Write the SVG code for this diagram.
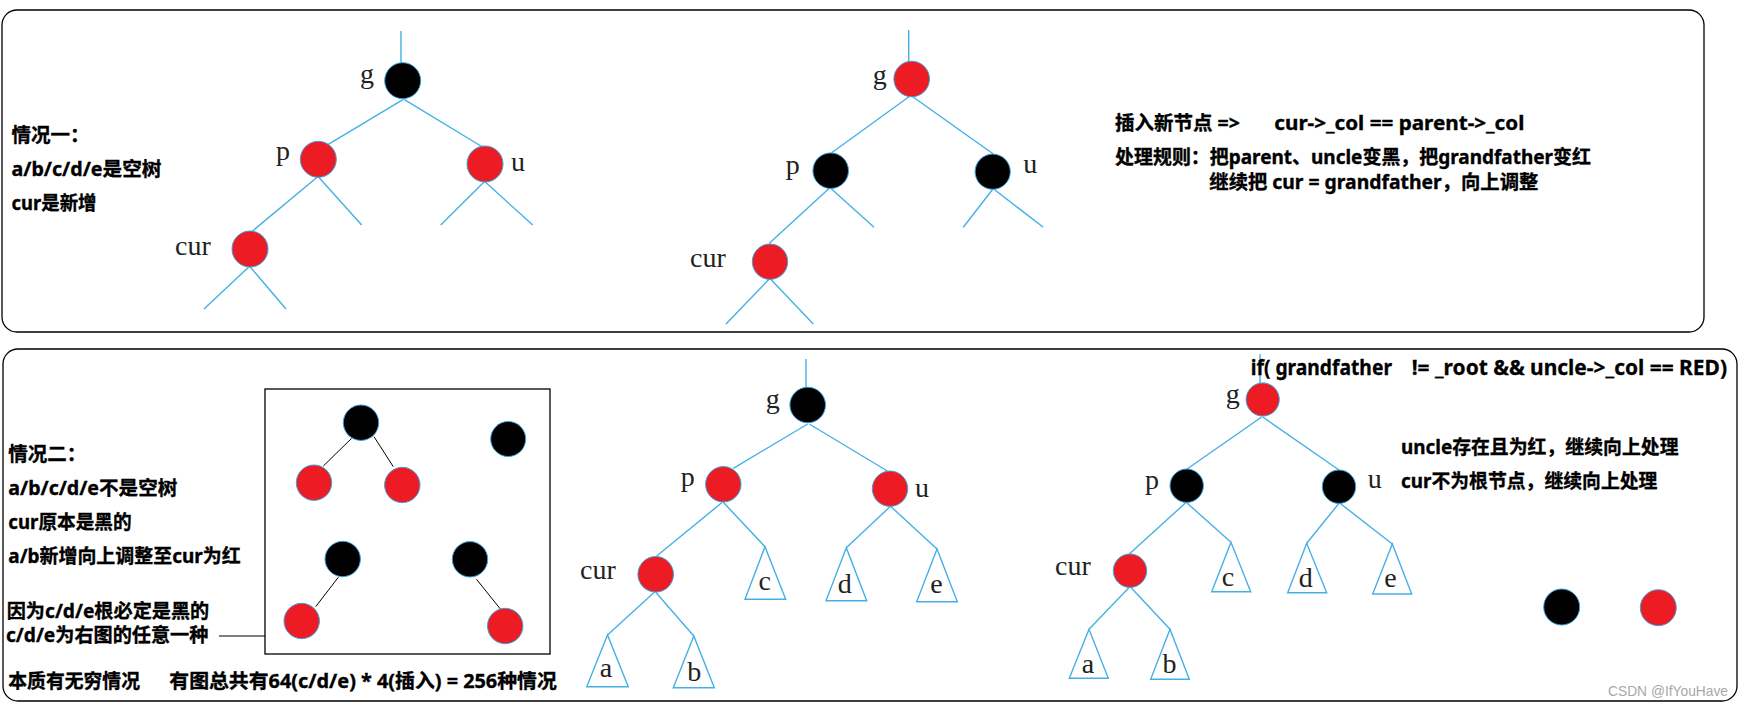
<svg xmlns="http://www.w3.org/2000/svg" width="1744" height="706" viewBox="0 0 1744 706">
<style>
.panel{fill:#fff;stroke:#000;stroke-width:1.3}
.edge{stroke:#45b0e6;stroke-width:1.4;fill:none}
.bl{stroke:#000;stroke-width:1;fill:none}
.red{fill:#ed1c24;stroke:#3ba3dc;stroke-width:1}
.blk{fill:#000;stroke:#3ba3dc;stroke-width:1}
.tri{fill:#fff;stroke:#45b0e6;stroke-width:1.4}
.lbl{font-family:"Liberation Serif",serif;font-size:28px;fill:#222}
.tl{font-family:"Liberation Serif",serif;font-size:28px;fill:#222;text-anchor:middle}
.txt{font-family:"Noto Sans","Noto Sans CJK SC",sans-serif;font-weight:bold;font-size:19.5px;fill:#000;stroke:#000;stroke-width:0.35}
.cond{font-family:"Noto Sans","Noto Sans CJK SC",sans-serif;font-weight:bold;font-size:21px;fill:#000;stroke:#000;stroke-width:0.3}
.wm{font-family:"Liberation Sans",sans-serif;font-size:15px;fill:#a8a8a8}
</style>
<rect width="1744" height="706" fill="#fff"/>
<rect class="panel" x="2" y="10" width="1702" height="322" rx="15"/>
<rect class="panel" x="3" y="349" width="1734" height="352" rx="15"/>

<g id="connectors">
  <line class="edge" x1="401" y1="31" x2="401" y2="63"/>
  <line class="edge" x1="403.3" y1="99.3" x2="328.3" y2="144.3"/>
  <line class="edge" x1="404" y1="99.3" x2="481.7" y2="146.5"/>
  <line class="edge" x1="317.7" y1="176.7" x2="251.7" y2="231.7"/>
  <line class="edge" x1="318.3" y1="176.7" x2="361.7" y2="225"/>
  <line class="edge" x1="484.3" y1="181.7" x2="440.7" y2="225"/>
  <line class="edge" x1="485" y1="181.7" x2="532.7" y2="225"/>
  <line class="edge" x1="249" y1="266.7" x2="204" y2="309"/>
  <line class="edge" x1="250" y1="266.7" x2="286" y2="309"/>
  <line class="edge" x1="908.7" y1="30" x2="908.7" y2="61.5"/>
  <line class="edge" x1="910" y1="96" x2="831.7" y2="152.7"/>
  <line class="edge" x1="911.7" y1="96" x2="993.3" y2="154"/>
  <line class="edge" x1="829.3" y1="188.3" x2="769.3" y2="243.3"/>
  <line class="edge" x1="830.7" y1="188.3" x2="874" y2="227.3"/>
  <line class="edge" x1="992.7" y1="189.3" x2="963.3" y2="227.3"/>
  <line class="edge" x1="994" y1="189.3" x2="1043.3" y2="227.3"/>
  <line class="edge" x1="769" y1="279.3" x2="726" y2="324"/>
  <line class="edge" x1="770.7" y1="279.3" x2="813.3" y2="324"/>
  <line class="edge" x1="806" y1="359" x2="806" y2="388"/>
  <line class="edge" x1="807.7" y1="424" x2="733.3" y2="468.3"/>
  <line class="edge" x1="809.3" y1="424" x2="887.3" y2="471"/>
  <line class="edge" x1="722.3" y1="502.3" x2="656.7" y2="556"/>
  <line class="edge" x1="723.3" y1="502.3" x2="765" y2="546.7"/>
  <line class="edge" x1="890" y1="506.7" x2="846.3" y2="547.7"/>
  <line class="edge" x1="891" y1="506.7" x2="937" y2="549"/>
  <line class="edge" x1="654.3" y1="592.3" x2="607.5" y2="635"/>
  <line class="edge" x1="655.7" y1="592.3" x2="693.8" y2="636"/>
  <line class="edge" x1="1260" y1="354" x2="1260" y2="383"/>
  <line class="edge" x1="1261.7" y1="417" x2="1186.7" y2="469.3"/>
  <line class="edge" x1="1262.7" y1="417" x2="1339" y2="470"/>
  <line class="edge" x1="1185.7" y1="502.7" x2="1129.3" y2="554"/>
  <line class="edge" x1="1186.7" y1="502.7" x2="1231" y2="542.3"/>
  <line class="edge" x1="1339" y1="503.3" x2="1306.7" y2="543.3"/>
  <line class="edge" x1="1340" y1="503.3" x2="1392.3" y2="544"/>
  <line class="edge" x1="1129.3" y1="587.3" x2="1089" y2="629.3"/>
  <line class="edge" x1="1130.7" y1="587.3" x2="1170" y2="629.3"/>
  <line class="bl" x1="351.7" y1="438.3" x2="323.3" y2="466"/>
  <line class="bl" x1="374" y1="436.7" x2="393.3" y2="466.7"/>
  <line class="bl" x1="338.3" y1="577.3" x2="315.7" y2="606.7"/>
  <line class="bl" x1="476.5" y1="579.3" x2="500.6" y2="609.3"/>
  <line class="bl" x1="219" y1="636" x2="265" y2="636"/>
</g>

<g id="t1-g"><circle class="blk" cx="402.7" cy="80.7" r="18"/><text class="lbl" x="360" y="82.5">g</text></g>
<g id="t1-p"><circle class="red" cx="318.3" cy="159.3" r="18"/><text class="lbl" x="276" y="159.5">p</text></g>
<g id="t1-u"><circle class="red" cx="485" cy="164" r="18"/><text class="lbl" x="511" y="171">u</text></g>
<g id="t1-cur"><circle class="red" cx="250" cy="249" r="18"/><text class="lbl" x="175" y="255">cur</text></g>

<g id="t2-g"><circle class="red" cx="911.7" cy="79" r="17.8"/><text class="lbl" x="872.7" y="84">g</text></g>
<g id="t2-p"><circle class="blk" cx="830.7" cy="170.7" r="17.8"/><text class="lbl" x="785.7" y="174">p</text></g>
<g id="t2-u"><circle class="blk" cx="992.7" cy="171.7" r="17.6"/><text class="lbl" x="1023.3" y="172.7">u</text></g>
<g id="t2-cur"><circle class="red" cx="770" cy="261.7" r="17.7"/><text class="lbl" x="690" y="266.7">cur</text></g>

<g id="t3-g"><circle class="blk" cx="807.7" cy="405" r="17.8"/><text class="lbl" x="765.7" y="407.5">g</text></g>
<g id="t3-p"><circle class="red" cx="723.3" cy="484.3" r="17.7"/><text class="lbl" x="680.7" y="486">p</text></g>
<g id="t3-u"><circle class="red" cx="890" cy="488.7" r="17.7"/><text class="lbl" x="915" y="496.5">u</text></g>
<g id="t3-cur"><circle class="red" cx="655.7" cy="574.3" r="17.8"/><text class="lbl" x="580" y="579">cur</text></g>
<g id="t3-c"><polygon class="tri" points="765,546.7 745,599.3 785.7,599.3"/><text class="tl" x="764.7" y="590">c</text></g>
<g id="t3-d"><polygon class="tri" points="846.3,547.7 826,600.7 866.7,600.7"/><text class="tl" x="844.7" y="593">d</text></g>
<g id="t3-e"><polygon class="tri" points="937,549 916.7,601.7 957.3,601.7"/><text class="tl" x="936.5" y="593">e</text></g>
<g id="t3-a"><polygon class="tri" points="607.5,635 586.7,686.7 628.3,686.7"/><text class="tl" x="606" y="677">a</text></g>
<g id="t3-b"><polygon class="tri" points="693.8,636 673.3,687.7 714.3,687.7"/><text class="tl" x="694.3" y="681">b</text></g>

<g id="t4-g"><circle class="red" cx="1262.7" cy="399.5" r="16.6"/><text class="lbl" x="1225.7" y="403">g</text></g>
<g id="t4-p"><circle class="blk" cx="1186.7" cy="485.7" r="16.7"/><text class="lbl" x="1145" y="489">p</text></g>
<g id="t4-u"><circle class="blk" cx="1339" cy="486.7" r="16.7"/><text class="lbl" x="1367.7" y="488">u</text></g>
<g id="t4-cur"><circle class="red" cx="1130" cy="570.7" r="16.7"/><text class="lbl" x="1055" y="575">cur</text></g>
<g id="t4-c"><polygon class="tri" points="1231,542.3 1211.7,591.7 1250.7,591.7"/><text class="tl" x="1228" y="585.7">c</text></g>
<g id="t4-d"><polygon class="tri" points="1306.7,543.3 1287.7,592.7 1326.7,592.7"/><text class="tl" x="1305.8" y="586.7">d</text></g>
<g id="t4-e"><polygon class="tri" points="1392.3,544 1372.7,594 1411.7,594"/><text class="tl" x="1390.5" y="587.3">e</text></g>
<g id="t4-a"><polygon class="tri" points="1089,629.3 1069.3,678.3 1108.3,678.3"/><text class="tl" x="1088" y="672.7">a</text></g>
<g id="t4-b"><polygon class="tri" points="1170,629.3 1150.7,679.3 1189.3,679.3"/><text class="tl" x="1169.5" y="673.3">b</text></g>

<g id="box">
  <rect x="265" y="389" width="285" height="265" fill="none" stroke="#000" stroke-width="1.3"/>
  <circle class="blk" cx="361" cy="422.7" r="17.7"/>
  <circle class="red" cx="314" cy="482.7" r="17.7"/>
  <circle class="red" cx="402.3" cy="485" r="17.7"/>
  <circle class="blk" cx="508.2" cy="439" r="17.5"/>
  <circle class="blk" cx="342.7" cy="559" r="17.7"/>
  <circle class="red" cx="301.7" cy="621" r="17.7"/>
  <circle class="blk" cx="470" cy="559.3" r="17.7"/>
  <circle class="red" cx="505.2" cy="626" r="17.7"/>
</g>

<g id="legend">
  <circle class="blk" cx="1561.7" cy="607" r="18"/>
  <circle class="red" cx="1658.3" cy="607.7" r="18"/>
</g>

<g id="texts">
  <text class="txt" x="11.5" y="142">情况一：</text>
  <text class="txt" x="11.5" y="176" textLength="150" lengthAdjust="spacingAndGlyphs">a/b/c/d/e是空树</text>
  <text class="txt" x="11.5" y="210" textLength="85" lengthAdjust="spacingAndGlyphs">cur是新增</text>
  <text class="txt" x="1115" y="130">插入新节点 =&gt;</text>
  <text class="txt" x="1274.3" y="130" textLength="250" lengthAdjust="spacingAndGlyphs">cur-&gt;_col == parent-&gt;_col</text>
  <text class="txt" x="1115" y="163.5" textLength="476" lengthAdjust="spacingAndGlyphs">处理规则：把parent、uncle变黑，把grandfather变红</text>
  <text class="txt" x="1209.3" y="189" textLength="329" lengthAdjust="spacingAndGlyphs">继续把 cur = grandfather，向上调整</text>

  <text class="txt" x="8.3" y="461">情况二：</text>
  <text class="txt" x="8.3" y="494.5" textLength="169" lengthAdjust="spacingAndGlyphs">a/b/c/d/e不是空树</text>
  <text class="txt" x="8.3" y="528.5" textLength="123.4" lengthAdjust="spacingAndGlyphs">cur原本是黑的</text>
  <text class="txt" x="8.3" y="562.5" textLength="232.4" lengthAdjust="spacingAndGlyphs">a/b新增向上调整至cur为红</text>
  <text class="txt" x="6.7" y="618" textLength="202.6" lengthAdjust="spacingAndGlyphs">因为c/d/e根必定是黑的</text>
  <text class="txt" x="6" y="642" textLength="202.3" lengthAdjust="spacingAndGlyphs">c/d/e为右图的任意一种</text>
  <text class="txt" x="8.3" y="687.5" textLength="131.7" lengthAdjust="spacingAndGlyphs">本质有无穷情况</text>
  <text class="txt" x="169.3" y="687.5" textLength="387.5" lengthAdjust="spacingAndGlyphs">有图总共有64(c/d/e) * 4(插入) = 256种情况</text>

  <text class="cond" x="1250.7" y="375" textLength="141.3" lengthAdjust="spacingAndGlyphs">if( grandfather</text>
  <text class="cond" x="1411.7" y="375" textLength="315.3" lengthAdjust="spacingAndGlyphs">!= _root &amp;&amp; uncle-&gt;_col == RED)</text>
  <text class="txt" x="1401" y="453.5" textLength="277.5" lengthAdjust="spacingAndGlyphs">uncle存在且为红，继续向上处理</text>
  <text class="txt" x="1401" y="487.5" textLength="256.4" lengthAdjust="spacingAndGlyphs">cur不为根节点，继续向上处理</text>
  <text class="wm" x="1608" y="696" textLength="120" lengthAdjust="spacingAndGlyphs">CSDN @IfYouHave</text>
</g>
</svg>
